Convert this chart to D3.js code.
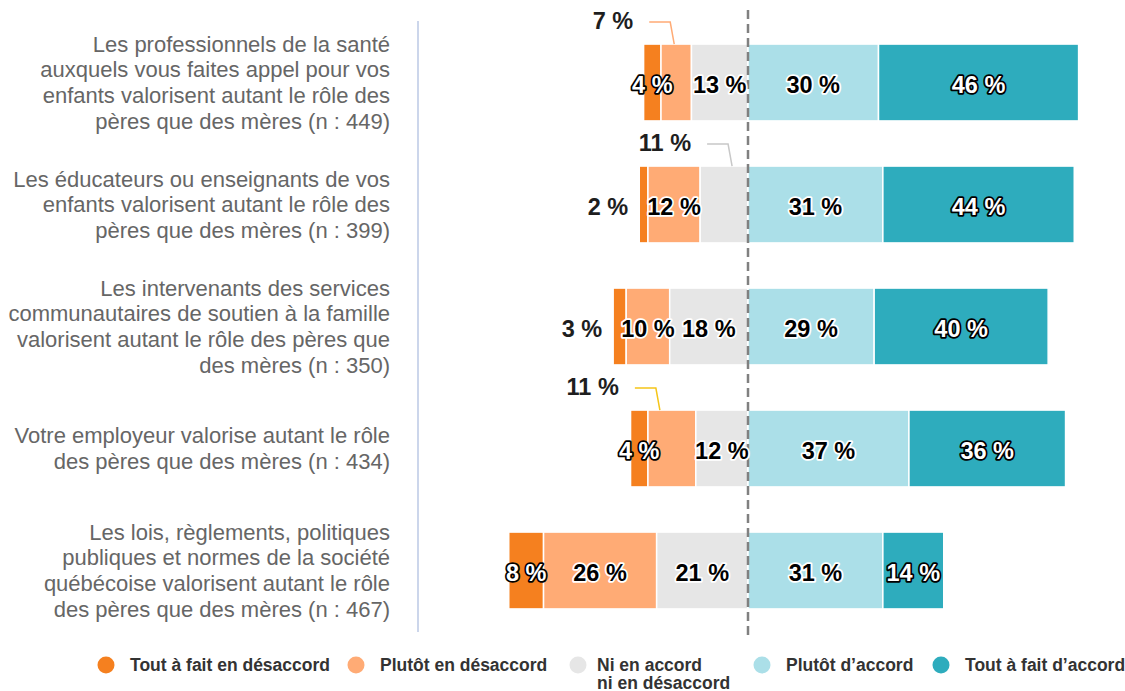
<!DOCTYPE html>
<html>
<head>
<meta charset="utf-8">
<script src="https://cdn.jsdelivr.net/npm/d3@7"></script>
<style>
  html, body { margin: 0; padding: 0; background: #fff; }
  svg { display: block; font-family: "Liberation Sans", Arial, sans-serif; }
</style>
</head>
<body>
<svg id="chart" width="1125" height="691"></svg>
<script>
// Category labels (line breaks as displayed)
const categories = [
  "Les professionnels de la santé\nauxquels vous faites appel pour vos\nenfants valorisent autant le rôle des\npères que des mères (n : 449)",
  "Les éducateurs ou enseignants de vos\nenfants valorisent autant le rôle des\npères que des mères (n : 399)",
  "Les intervenants des services\ncommunautaires de soutien à la famille\nvalorisent autant le rôle des pères que\ndes mères (n : 350)",
  "Votre employeur valorise autant le rôle\ndes pères que des mères (n : 434)",
  "Les lois, règlements, politiques\npubliques et normes de la société\nquébécoise valorisent autant le rôle\ndes pères que des mères (n : 467)"
];

// Response shares (%) per category
const toutDesaccord   = [4, 2, 3, 4, 8];
const plutotDesaccord = [7, 12, 10, 11, 26];
const niAccordNiDes   = [13, 11, 18, 12, 21];
const plutotAccord    = [30, 31, 29, 37, 31];
const toutAccord      = [46, 44, 40, 36, 14];

const seriesNames = [
  "Tout à fait en désaccord",
  "Plutôt en désaccord",
  "Ni en accord\nni en désaccord",
  "Plutôt d’accord",
  "Tout à fait d’accord"
];
const seriesValues = [toutDesaccord, plutotDesaccord, niAccordNiDes, plutotAccord, toutAccord];
const colors = ["#f5801f", "#ffab75", "#e6e6e6", "#abdfe8", "#2eacbd"];

// Labels that sit outside their segment
const outsideLabels = [
  { cat: 0, ser: 1, kind: "leader", color: "#ffab75", shift: -2 },
  { cat: 1, ser: 2, kind: "leader", color: "#c8c8c8", shift: 8 },
  { cat: 1, ser: 0, kind: "left" },
  { cat: 2, ser: 0, kind: "left" },
  { cat: 3, ser: 1, kind: "leader", color: "#f5c518", shift: -12 }
];

const svg = d3.select("#chart");

const x = d3.scaleLinear().domain([-60, 80]).range([487, 1096]);
const y = d3.scaleBand().domain(d3.range(categories.length)).range([21.5, 631.5]).paddingInner(0.37).paddingOuter(0.185);

// Build stacked segments: first three series on the negative side
const segments = [];
categories.forEach((c, i) => {
  const neg = seriesValues.slice(0, 3).map(s => s[i]);
  let start = -d3.sum(neg);
  for (let s = 0; s < 3; s++) {
    segments.push({ cat: i, ser: s, v: seriesValues[s][i], x0: start, x1: start + seriesValues[s][i] });
    start += seriesValues[s][i];
  }
  let pos = 0;
  for (let s = 3; s < 5; s++) {
    segments.push({ cat: i, ser: s, v: seriesValues[s][i], x0: pos, x1: pos + seriesValues[s][i] });
    pos += seriesValues[s][i];
  }
});

// Vertical axis line
svg.append("line")
  .attr("x1", 418).attr("x2", 418)
  .attr("y1", 21).attr("y2", 632)
  .attr("stroke", "#ccd6eb").attr("stroke-width", 2);

// Bars
svg.append("g").selectAll("rect").data(segments).join("rect")
  .attr("x", d => x(d.x0))
  .attr("width", d => x(d.x1) - x(d.x0))
  .attr("y", d => y(d.cat))
  .attr("height", y.bandwidth())
  .attr("fill", d => colors[d.ser])
  .attr("stroke", "#fff").attr("stroke-width", 1.5);

// Center reference line
svg.append("line")
  .attr("x1", x(0)).attr("x2", x(0))
  .attr("y1", 10).attr("y2", 640)
  .attr("stroke", "#808080").attr("stroke-width", 2.5)
  .attr("stroke-dasharray", "9,5");

// Category labels
const catG = svg.append("g");
categories.forEach((c, i) => {
  const lines = c.split("\n");
  const lh = 25.6;
  const cy = y(i) + y.bandwidth() / 2;
  const t = catG.append("text")
    .attr("text-anchor", "end")
    .attr("font-size", 22)
    .attr("fill", "#666");
  lines.forEach((ln, k) => {
    t.append("tspan")
      .attr("x", 390)
      .attr("y", cy + (k - (lines.length - 1) / 2) * lh)
      .attr("dy", "0.35em")
      .text(ln);
  });
});

// Data labels
const isOutside = d => outsideLabels.some(o => o.cat === d.cat && o.ser === d.ser);
const labelG = svg.append("g").attr("font-size", 23.5).attr("font-weight", "bold");

const inside = segments.filter(d => !isOutside(d));
labelG.selectAll("text.in").data(inside).join("text")
  .attr("class", "in")
  .attr("x", d => x((d.x0 + d.x1) / 2))
  .attr("y", d => y(d.cat) + y.bandwidth() / 2 + 2)
  .attr("dy", "0.35em")
  .attr("text-anchor", "middle")
  .attr("fill", d => (d.ser === 0 || d.ser === 4) ? "#fff" : "#000")
  .attr("stroke", d => (d.ser === 0 || d.ser === 4) ? "#000" : "#fff")
  .attr("stroke-width", 3.5)
  .attr("stroke-linejoin", "round")
  .attr("paint-order", "stroke")
  .text(d => d.v + " %");

outsideLabels.forEach(o => {
  const d = segments.find(s => s.cat === o.cat && s.ser === o.ser);
  const top = y(d.cat);
  if (o.kind === "left") {
    labelG.append("text")
      .attr("x", x(d.x0) - 11)
      .attr("y", top + y.bandwidth() / 2 + 2)
      .attr("dy", "0.35em")
      .attr("text-anchor", "end")
      .attr("fill", "#1e1e1e")
      .text(d.v + " %");
  } else {
    const ex = x((d.x0 + d.x1) / 2) + o.shift;
    const ey = top;
    const elbowY = top - 22;
    const elbowX = ex - 4;
    svg.append("path")
      .attr("d", `M${elbowX - 21},${elbowY}L${elbowX},${elbowY}L${ex},${ey}`)
      .attr("fill", "none")
      .attr("stroke", o.color)
      .attr("stroke-width", 1.5);
    labelG.append("text")
      .attr("x", elbowX - 21 - 16)
      .attr("y", elbowY - 1)
      .attr("dy", "0.35em")
      .attr("text-anchor", "end")
      .attr("fill", "#1e1e1e")
      .text(d.v + " %");
  }
});

// Legend
const legendX = [106, 356, 578, 762, 941];
const legend = svg.append("g").attr("font-size", 17.5).attr("font-weight", "bold").attr("fill", "#333");
seriesNames.forEach((name, i) => {
  const g = legend.append("g").attr("transform", `translate(${legendX[i]},665)`);
  g.append("circle").attr("r", 8.5).attr("fill", colors[i]);
  const tx = i === 2 ? 19 : 24;
  const t = g.append("text");
  name.split("\n").forEach((ln, k) => {
    t.append("tspan").attr("x", tx).attr("y", k * 17.5).attr("dy", "0.35em").text(ln);
  });
});
</script>
</body>
</html>
